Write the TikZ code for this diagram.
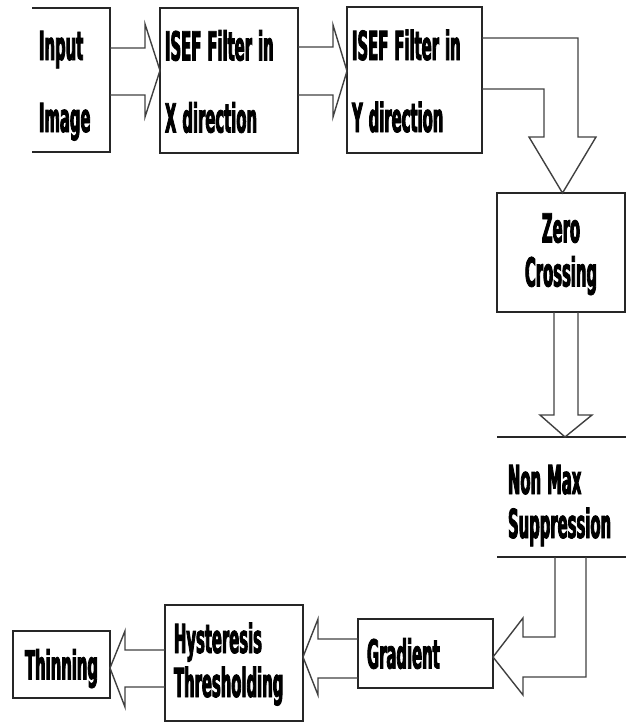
\documentclass[tikz,border=0pt]{standalone}
\usepackage{fontspec}
\newfontfamily\boxfont{DejaVu Sans}[FakeStretch=0.37, FakeBold=2]
\newcommand\boxtext{\boxfont\bfseries\fontsize{40}{44}\selectfont}
\newcommand\boxtexttall{\boxfont\bfseries\fontsize{40}{72}\selectfont}
\newcommand\wsp{\hspace*{6pt}}

\begin{document}
\begin{tikzpicture}[
  x=1pt, y=-1pt,
  box/.style={draw=black!85, line width=2pt, outer sep=0pt, align=left, inner xsep=7pt, inner ysep=0pt, text height=30pt, text depth=50pt, font=\boxtext},
  tallbox/.style={box, text depth=70pt, font=\boxtexttall},
  onebox/.style={box, text height=38pt, text depth=8pt},
  rule/.style={draw=black!85, line width=2pt},
  hollow/.style={draw=black!75, line width=1.4pt, line join=miter}
]
\useasboundingbox (0,0) rectangle (626,725);

\node[tallbox, draw=none, text width=64pt, minimum height=144pt] (input) at (71,80) {Input\\Image};
\node[tallbox, inner xsep=5pt, text width=128pt, minimum height=145pt] (isefx) at (229,80.5) {ISEF\wsp Filter\wsp in\\X\wsp direction};
\node[tallbox, inner xsep=5pt, text width=125pt, minimum height=146pt] (isefy) at (414.5,80) {ISEF\wsp Filter\wsp in\\Y\wsp direction};
\node[box, align=center, text width=114pt, minimum height=119pt] (zero) at (561,252.5) {Zero\\Crossing};
\node[box, draw=none, text depth=36pt, inner xsep=11pt, text width=121pt, minimum height=120pt] (nms) at (568.5,497) {Non\wsp Max\\Suppression};
\node[onebox, inner xsep=9pt, text width=117pt, minimum height=69pt] (gradient) at (425.5,653.5) {Gradient};
\node[box, inner xsep=9pt, text width=120pt, minimum height=116pt] (hyst) at (234,663) {Hysteresis\\Thresholding};
\node[onebox, align=center, text width=83pt, minimum height=67pt] (thin) at (61.5,664.5) {Thinning};

\draw[rule] (input.north west) -- (input.north east) -- (input.south east) -- (input.south west);
\draw[rule] (nms.north west) -- (nms.north east);
\draw[rule] (nms.south west) -- (nms.south east);

\draw[hollow] ([yshift=32pt]input.east) -- ++(35,0) -- ++(0,-24) -- ([yshift=10pt]isefx.west) -- ++(-15,46.5) -- ++(0,-22) -- ([yshift=-15pt]input.east);
\draw[hollow] ([yshift=33.5pt]isefx.east) -- ++(35,0) -- ++(0,-22) -- ([yshift=9pt]isefy.west) -- ++(-14,46) -- ++(0,-22) -- ([yshift=-14.5pt]isefx.east);
\draw[hollow] ([yshift=42pt]isefy.east) -- ++(96,0) -- ++(0,99) -- ++(18,0) -- ([xshift=1.5pt]zero.north) -- ++(-33.5,-56) -- ++(15,0) -- ++(0,-48) -- ([yshift=-9pt]isefy.east);
\draw[hollow] ([xshift=-7pt]zero.south) -- ++(0,103) -- ++(-14,0) -- ([xshift=-3.5pt]nms.north) -- ++(27,-22) -- ++(-14,0) -- ([xshift=17pt]zero.south);
\draw[hollow] ([xshift=-13.5pt]nms.south) -- ++(0,80) -- ++(-32,0) -- ++(0,-19) -- ([yshift=-3.5pt]gradient.east) -- ++(30,38) -- ++(0,-18) -- ++(63,0) -- ([xshift=17.5pt]nms.south);
\draw[hollow] ([yshift=14.5pt]gradient.west) -- ++(-40,0) -- ++(0,-20) -- ([yshift=6pt]hyst.east) -- ++(15,38) -- ++(0,-17) -- ([yshift=-24.5pt]gradient.west);
\draw[hollow] ([yshift=13pt]hyst.west) -- ++(-40,0) -- ++(0,-19) -- ([yshift=-3.5pt]thin.east) -- ++(15,39) -- ++(0,-20) -- ([yshift=-24pt]hyst.west);
\end{tikzpicture}
\end{document}
